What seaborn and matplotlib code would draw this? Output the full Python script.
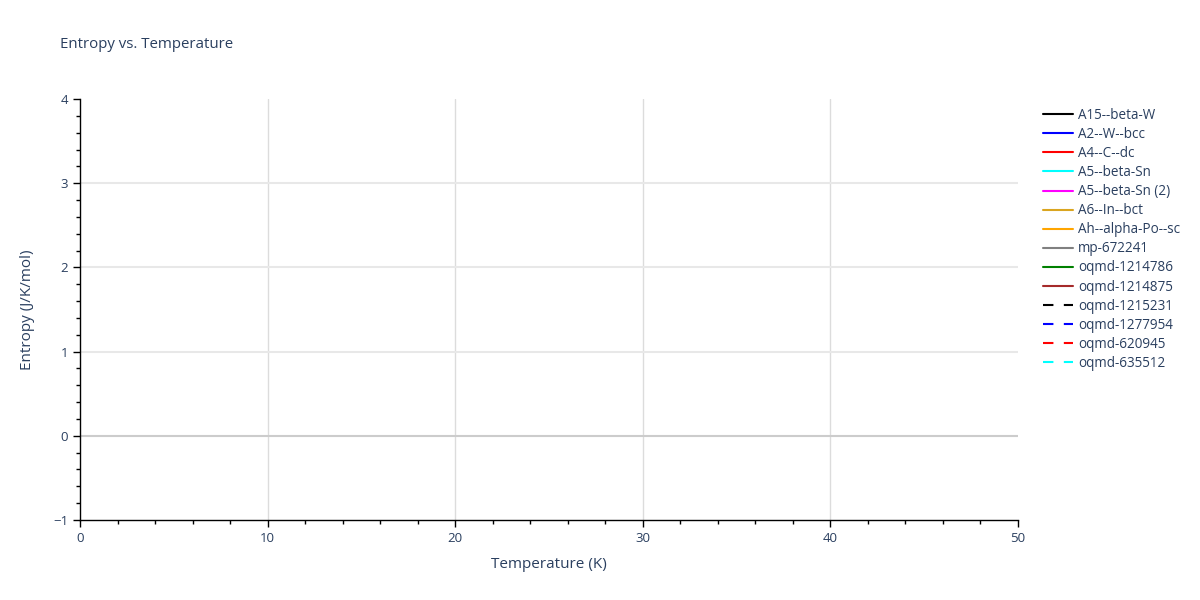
import numpy as np
import seaborn as sns
import matplotlib
matplotlib.use("Agg")
import matplotlib.pyplot as plt
from matplotlib.ticker import MultipleLocator

# Data: no values fall inside the plotted window, every series is empty
temperature = [np.nan]
series_names = ["A15--beta-W", "A2--W--bcc", "A4--C--dc", "A5--beta-Sn",
                "A5--beta-Sn (2)", "A6--In--bct", "Ah--alpha-Po--sc", "mp-672241",
                "oqmd-1214786", "oqmd-1214875", "oqmd-1215231", "oqmd-1277954",
                "oqmd-620945", "oqmd-635512"]
entropy = {name: [np.nan] for name in series_names}

colors = ["black", "blue", "red", "cyan", "magenta", "goldenrod", "orange", "grey",
          "green", "brown", "black", "blue", "red", "cyan"]
dashed = [False] * 10 + [True] * 4

sns.set_style("white")
plt.rcParams['font.family'] = ['Open Sans', 'DejaVu Sans']
txt = "#2a3f5f"

fig = plt.figure(figsize=(12, 6), dpi=100)
ax = fig.add_axes([80 / 1200, 80 / 600, 938 / 1200, 421 / 600])

for name, c, d in zip(series_names, colors, dashed):
    ls = (0, (5, 5)) if d else "-"
    ax.plot(temperature, entropy[name], color=c, lw=1.5, linestyle=ls, label=name)

ax.set_xlim(0, 50)
ax.set_ylim(-1, 4)
ax.xaxis.set_major_locator(MultipleLocator(10))
ax.xaxis.set_minor_locator(MultipleLocator(2))
ax.yaxis.set_major_locator(MultipleLocator(1))
ax.yaxis.set_minor_locator(MultipleLocator(0.2))

for x in [10, 20, 30, 40]:
    ax.axvline(x, color="#dcdcdc", lw=1, zorder=0)
for y in [1, 2, 3]:
    ax.axhline(y, color="#e8e8e8", lw=1.5, zorder=0)
ax.axhline(0, color="#cccccc", lw=1.5, zorder=0)

for s in ["top", "right"]:
    ax.spines[s].set_visible(False)
for s in ["left", "bottom"]:
    ax.spines[s].set_color("black")
    ax.spines[s].set_linewidth(1)

ax.tick_params(which="major", direction="out", length=5, width=1, color="black",
               labelcolor=txt, labelsize=9.5, bottom=True, left=True)
ax.tick_params(which="minor", direction="out", length=3, width=1, color="black",
               bottom=True, left=True)
ax.set_yticks([-1, 0, 1, 2, 3, 4])
ax.set_yticklabels(["\u22121", "0", "1", "2", "3", "4"])

ax.set_xlabel("Temperature (K)", color=txt, fontsize=11, labelpad=9)
ax.set_ylabel("Entropy (J/K/mol)", color=txt, fontsize=11, labelpad=13)
fig.text(60 / 1200, 1 - 45 / 600, "Entropy vs. Temperature", color=txt,
         fontsize=10.8, va="center", ha="left")

leg = fig.legend(loc="upper left", bbox_to_anchor=(1043 / 1200, 1 - 108 / 600),
                 frameon=False, fontsize=9.75, handlelength=2.2, handletextpad=0.37,
                 labelspacing=0.3, borderaxespad=0, borderpad=0)
for t in leg.get_texts():
    t.set_color(txt)

fig.savefig("out.png", dpi=100)
